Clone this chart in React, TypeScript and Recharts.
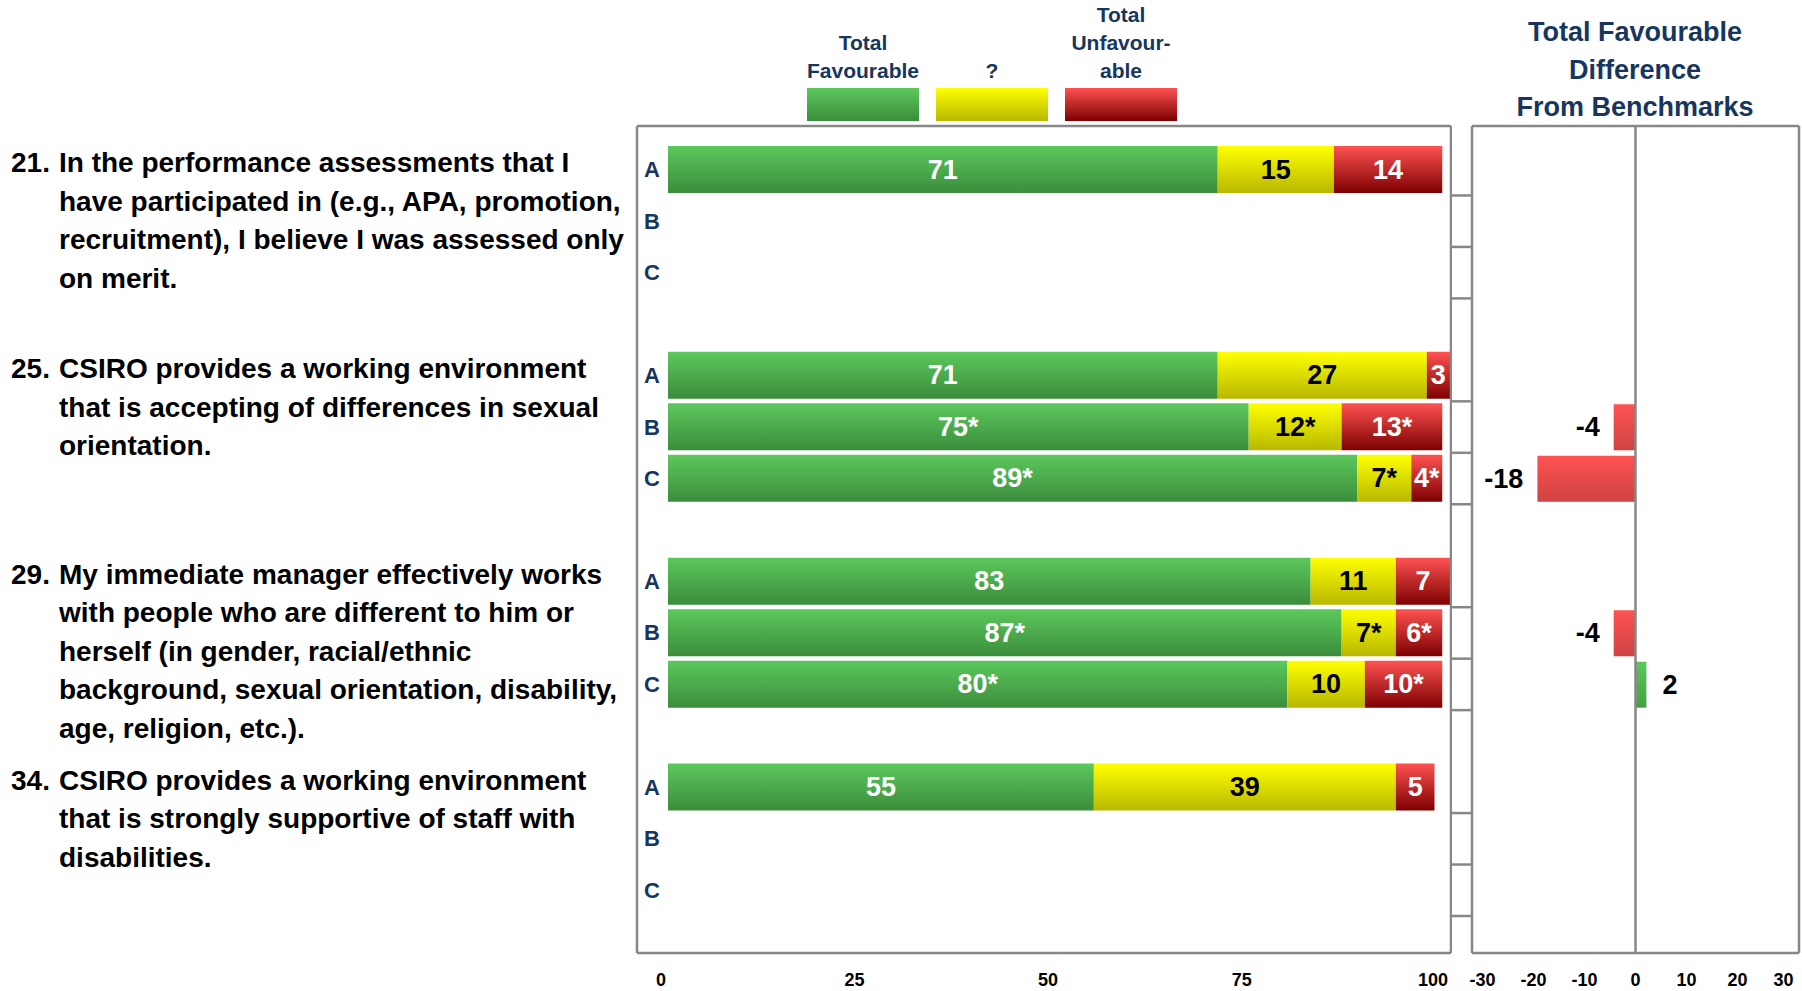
import React from 'react';
import { BarChart, Bar, XAxis, YAxis, LabelList, Cell, ReferenceLine } from 'recharts';

const FONT = '"Liberation Sans", Arial, Helvetica, sans-serif';
const NAVY = '#17365d';
const FRAME = '#878787';

// survey items, each answered by groups A, B and C
const questionIds = ['21', '25', '29', '34'];
const questionLines = [
  [
    'In the performance assessments that I',
    'have participated in (e.g., APA, promotion,',
    'recruitment), I believe I was assessed only',
    'on merit.',
  ],
  [
    'CSIRO provides a working environment',
    'that is accepting of differences in sexual',
    'orientation.',
  ],
  [
    'My immediate manager effectively works',
    'with people who are different to him or',
    'herself (in gender, racial/ethnic',
    'background, sexual orientation, disability,',
    'age, religion, etc.).',
  ],
  [
    'CSIRO provides a working environment',
    'that is strongly supportive of staff with',
    'disabilities.',
  ],
];
const groupLetters = ['A', 'B', 'C'];

// one value per question x group, in order 21A, 21B, 21C, 25A, ...
const favourable = [71, null, null, 71, 75, 89, 83, 87, 80, 55, null, null];
const neutral = [15, null, null, 27, 12, 7, 11, 7, 10, 39, null, null];
const unfavourable = [14, null, null, 3, 13, 4, 7, 6, 10, 5, null, null];
const favourableSig = [false, false, false, false, true, true, false, true, true, false, false, false];
const neutralSig = [false, false, false, false, true, true, false, true, false, false, false, false];
const unfavourableSig = [false, false, false, false, true, true, false, true, true, false, false, false];
const benchmarkDiff = [null, null, null, null, -4, -18, null, -4, 2, null, null, null];

const percentTicks = [0, 25, 50, 75, 100];
const diffTicks = [-30, -20, -10, 0, 10, 20, 30];

const legendItems = [
  { lines: ['Total', 'Favourable'], grad: ['#5cc85c', '#3b8d3b'] },
  { lines: ['?'], grad: ['#ffff00', '#b8b800'] },
  { lines: ['Total', 'Unfavour-', 'able'], grad: ['#ff5252', '#7d0000'] },
];

const withSig = (v, sig) => (v == null ? '' : `${v}${sig ? '*' : ''}`);

// a blank spacer row sits between consecutive questions
const rows = [];
questionIds.forEach((q, qi) => {
  if (qi > 0) rows.push({ key: `gap${qi}` });
  groupLetters.forEach((g, gi) => {
    const i = qi * 3 + gi;
    rows.push({
      key: `${q}${g}`,
      question: qi,
      group: g,
      fav: favourable[i],
      neu: neutral[i],
      unf: unfavourable[i],
      favLabel: withSig(favourable[i], favourableSig[i]),
      neuLabel: withSig(neutral[i], neutralSig[i]),
      unfLabel: withSig(unfavourable[i], unfavourableSig[i]),
      diff: benchmarkDiff[i],
    });
  });
});
const rowByKey = Object.fromEntries(rows.map((r) => [r.key, r]));

const rowPadding = { top: 18, bottom: 37 };
const frameLine = { stroke: FRAME, strokeWidth: 2.5 };

const QuestionTick = ({ y, payload }) => {
  const row = rowByKey[payload.value];
  if (!row || !row.group) return null;
  const textStyle = { fontFamily: FONT, fontWeight: 'bold' };
  return (
    <g>
      <text x={652} y={y} textAnchor="middle" dominantBaseline="central" fontSize={22} fill={NAVY} style={textStyle}>
        {row.group}
      </text>
      {row.group === 'A' && (
        <text x={11} y={y - 7} dominantBaseline="central" fontSize={28} fill="#000" style={textStyle}>
          {questionIds[row.question]}.
        </text>
      )}
      {row.group === 'A' &&
        questionLines[row.question].map((line, li) => (
          <text key={li} x={59} y={y - 7 + li * 38.5} dominantBaseline="central" fontSize={28} fill="#000" style={textStyle}>
            {line}
          </text>
        ))}
    </g>
  );
};

const BoundaryTick = ({ x, y, payload }) => {
  const row = rowByKey[payload.value];
  if (!row || !row.group) return null;
  const half = payload.offset || 25.7;
  return <line x1={x - 21} x2={x} y1={y + half} y2={y + half} stroke={FRAME} strokeWidth={2.5} />;
};

const makeValueTick = (shift) => ({ x, y, payload }) => (
  <text
    x={x + shift(payload.value)}
    y={y + 27}
    textAnchor="middle"
    dominantBaseline="central"
    fontSize={18}
    fontWeight="bold"
    fontFamily={FONT}
    fill="#000"
  >
    {payload.value}
  </text>
);
const PercentTick = makeValueTick(() => -7);
const DiffTick = makeValueTick((v) => -v * 0.35);

const segmentLabel = (color) => (props) => {
  const { x, y, width, height, value } = props;
  if (value == null || value === '') return null;
  return (
    <text
      x={x + width / 2}
      y={y + height / 2}
      textAnchor="middle"
      dominantBaseline="central"
      fontSize={27}
      fontWeight="bold"
      fontFamily={FONT}
      fill={color}
    >
      {value}
    </text>
  );
};

const DiffLabel = (props) => {
  const { x, y, width, height, value } = props;
  if (value == null) return null;
  const left = Math.min(x, x + width);
  const right = Math.max(x, x + width);
  const neg = value < 0;
  return (
    <text
      x={neg ? left - 14 : right + 16}
      y={y + height / 2}
      textAnchor={neg ? 'end' : 'start'}
      dominantBaseline="central"
      fontSize={27}
      fontWeight="bold"
      fontFamily={FONT}
      fill="#000"
    >
      {value}
    </text>
  );
};

const VGrad = ({ id, from, to }) => (
  <linearGradient id={id} x1="0" y1="0" x2="0" y2="1">
    <stop offset="0%" stopColor={from} />
    <stop offset="100%" stopColor={to} />
  </linearGradient>
);

function Legend() {
  return (
    <>
      {legendItems.map((item, i) => {
        const left = 807 + i * 129;
        return (
          <React.Fragment key={i}>
            <div
              style={{
                position: 'absolute',
                left: left - 30,
                width: 172,
                bottom: 991 - 85,
                textAlign: 'center',
                fontFamily: FONT,
                fontWeight: 'bold',
                fontSize: 21,
                lineHeight: '28px',
                color: NAVY,
              }}
            >
              {item.lines.map((l) => (
                <div key={l}>{l}</div>
              ))}
            </div>
            <div
              style={{
                position: 'absolute',
                left,
                top: 88,
                width: 112,
                height: 33,
                background: `linear-gradient(${item.grad[0]}, ${item.grad[1]})`,
              }}
            />
          </React.Fragment>
        );
      })}
    </>
  );
}

export default function App() {
  return (
    <div style={{ position: 'absolute', left: 0, top: 0, width: 1802, height: 991, background: '#fff', overflow: 'hidden' }}>
      <Legend />
      <div
        style={{
          position: 'absolute',
          left: 1435,
          width: 400,
          top: 14,
          textAlign: 'center',
          fontFamily: FONT,
          fontWeight: 'bold',
          fontSize: 27,
          lineHeight: '37.5px',
          color: NAVY,
        }}
      >
        <div>Total Favourable</div>
        <div>Difference</div>
        <div>From Benchmarks</div>
      </div>

      {/* stacked percentage bars with question text on the category axis */}
      <div style={{ position: 'absolute', left: 0, top: 0 }}>
        <BarChart
          width={1452}
          height={991}
          data={rows}
          layout="vertical"
          margin={{ top: 125, right: 0, bottom: 8, left: 0 }}
        >
          <defs>
            <VGrad id="gFav" from="#5cc85c" to="#3b8d3b" />
            <VGrad id="gNeu" from="#ffff00" to="#b8b800" />
            <VGrad id="gUnf" from="#ff5252" to="#7d0000" />
          </defs>
          <XAxis
            xAxisId="bottom"
            type="number"
            domain={[0, 100]}
            ticks={percentTicks}
            padding={{ left: 31, right: 1 }}
            height={30}
            axisLine={frameLine}
            tickLine={false}
            tickSize={0}
            tickMargin={0}
            tick={<PercentTick />}
          />
          <XAxis
            xAxisId="top"
            orientation="top"
            type="number"
            domain={[0, 100]}
            height={1}
            axisLine={frameLine}
            tickLine={false}
            tick={false}
          />
          <YAxis
            yAxisId="cat"
            type="category"
            dataKey="key"
            width={637}
            interval={0}
            padding={rowPadding}
            axisLine={frameLine}
            tickLine={false}
            tickSize={0}
            tickMargin={0}
            tick={<QuestionTick />}
          />
          <YAxis
            yAxisId="edge"
            orientation="right"
            type="category"
            dataKey="key"
            width={1}
            padding={rowPadding}
            axisLine={frameLine}
            tickLine={false}
            tick={false}
          />
          <Bar dataKey="fav" stackId="s" xAxisId="bottom" yAxisId="cat" barSize={47} fill="url(#gFav)" isAnimationActive={false}>
            <LabelList dataKey="favLabel" content={segmentLabel('#ffffff')} />
          </Bar>
          <Bar dataKey="neu" stackId="s" xAxisId="bottom" yAxisId="cat" barSize={47} fill="url(#gNeu)" isAnimationActive={false}>
            <LabelList dataKey="neuLabel" content={segmentLabel('#000000')} />
          </Bar>
          <Bar dataKey="unf" stackId="s" xAxisId="bottom" yAxisId="cat" barSize={47} fill="url(#gUnf)" isAnimationActive={false}>
            <LabelList dataKey="unfLabel" content={segmentLabel('#ffffff')} />
          </Bar>
        </BarChart>
      </div>

      {/* difference from benchmark panel */}
      <div style={{ position: 'absolute', left: 1451, top: 0 }}>
        <BarChart
          width={351}
          height={991}
          data={rows}
          layout="vertical"
          margin={{ top: 125, right: 2, bottom: 8, left: 0 }}
        >
          <defs>
            <VGrad id="gDiffNeg" from="#ff5252" to="#cf4343" />
            <VGrad id="gDiffPos" from="#5cc85c" to="#43a043" />
          </defs>
          <XAxis
            xAxisId="bottom"
            type="number"
            domain={[-30, 30]}
            ticks={diffTicks}
            height={30}
            axisLine={frameLine}
            tickLine={false}
            tickSize={0}
            tickMargin={0}
            tick={<DiffTick />}
          />
          <XAxis
            xAxisId="top"
            orientation="top"
            type="number"
            domain={[-30, 30]}
            height={1}
            axisLine={frameLine}
            tickLine={false}
            tick={false}
          />
          <YAxis
            yAxisId="cat"
            type="category"
            dataKey="key"
            width={21}
            interval={0}
            padding={rowPadding}
            axisLine={frameLine}
            tickLine={false}
            tickSize={0}
            tickMargin={0}
            tick={<BoundaryTick />}
          />
          <YAxis
            yAxisId="edge"
            orientation="right"
            type="category"
            dataKey="key"
            width={1}
            padding={rowPadding}
            axisLine={frameLine}
            tickLine={false}
            tick={false}
          />
          <ReferenceLine x={0} xAxisId="bottom" yAxisId="cat" stroke={FRAME} strokeWidth={2.5} />
          <Bar dataKey="diff" xAxisId="bottom" yAxisId="cat" barSize={46} isAnimationActive={false}>
            {rows.map((r) => (
              <Cell key={r.key} fill={r.diff != null && r.diff > 0 ? 'url(#gDiffPos)' : 'url(#gDiffNeg)'} />
            ))}
            <LabelList dataKey="diff" content={DiffLabel} />
          </Bar>
        </BarChart>
      </div>
    </div>
  );
}
